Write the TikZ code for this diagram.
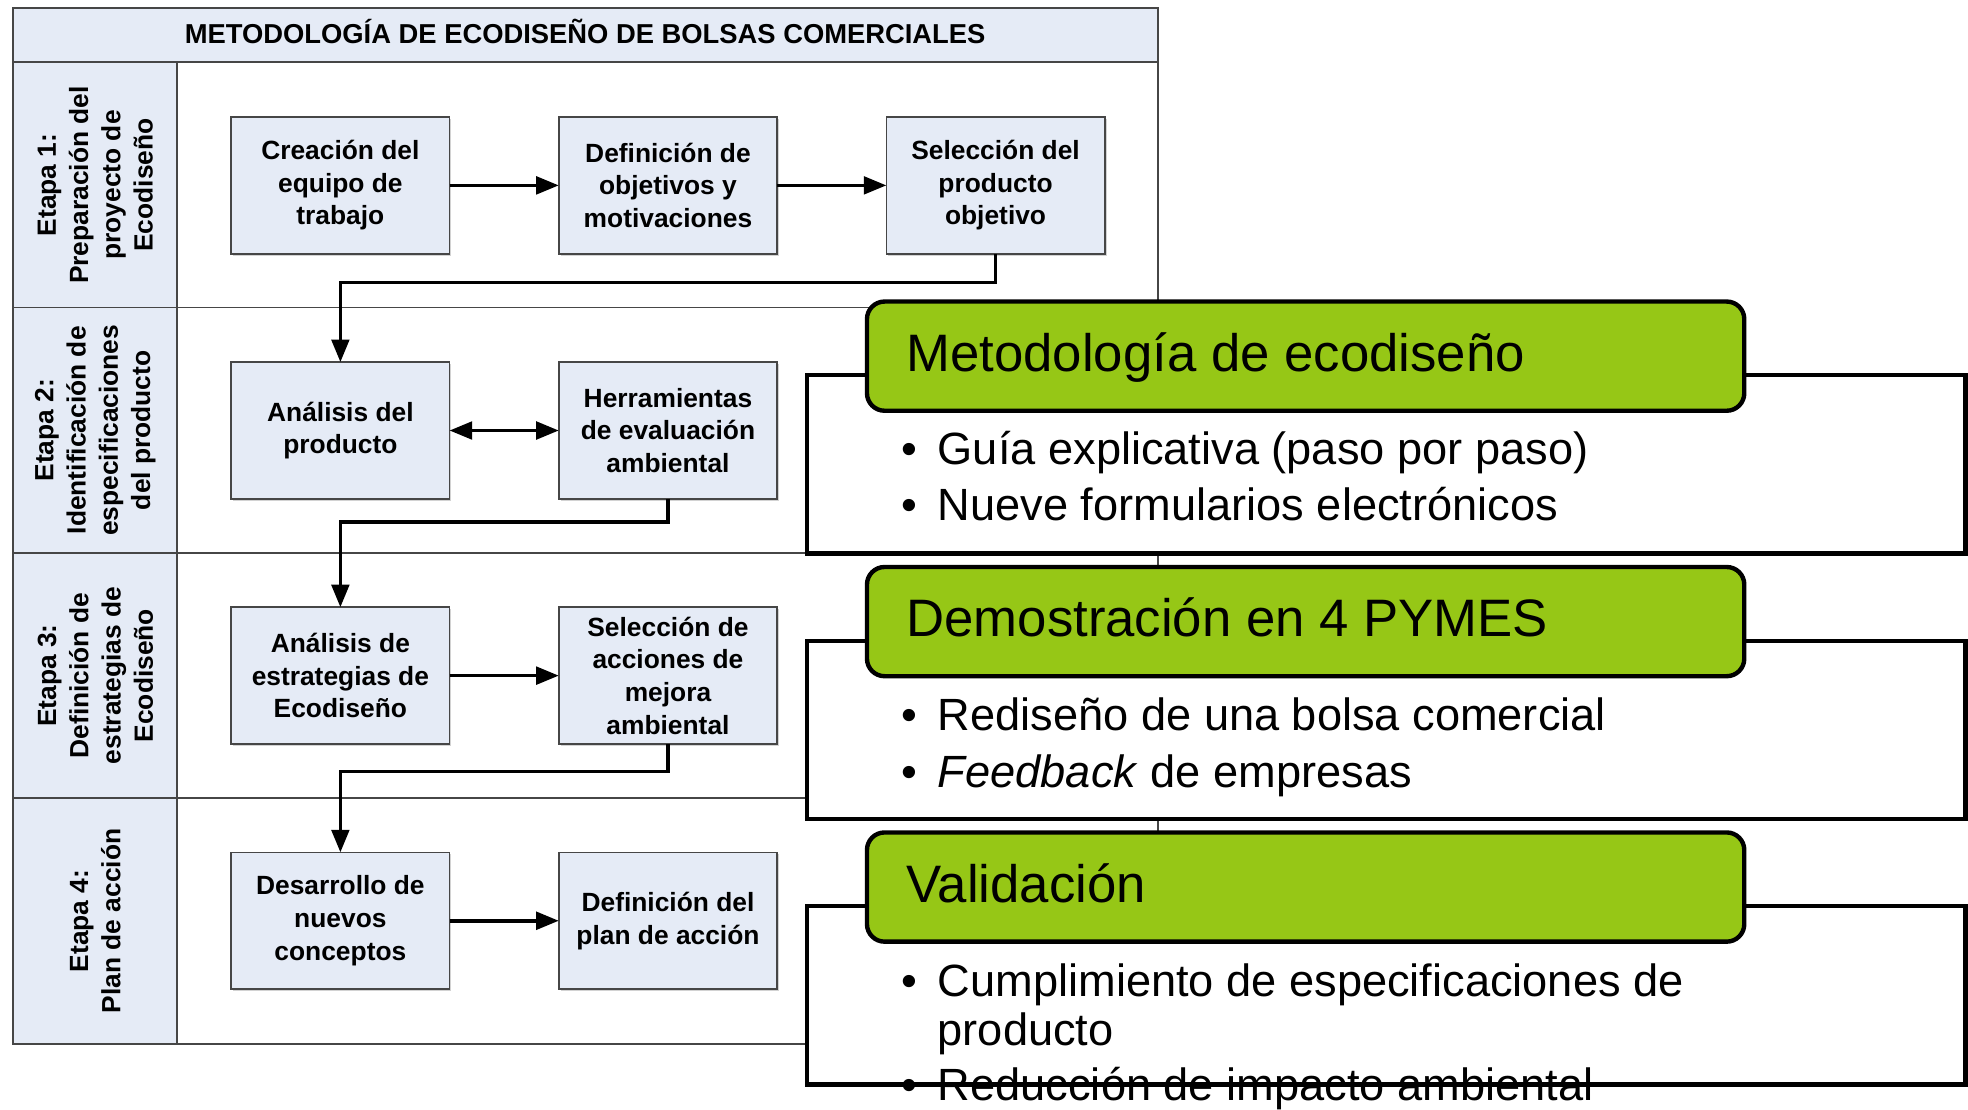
\documentclass[tikz,border=0pt]{standalone}
\usepackage{fontspec}
\setmainfont{Liberation Sans}
\usetikzlibrary{arrows.meta, positioning, shadows}

\definecolor{fondocaja}{RGB}{229,235,246}
\definecolor{verdecab}{RGB}{150,199,22}
\definecolor{lineagris}{RGB}{70,70,70}

\begin{document}
\begin{tikzpicture}[x=1pt, y=-1pt, node distance=87pt,
    caja/.style={draw=lineagris, line width=1.2pt, fill=fondocaja, minimum width=174pt, minimum height=109pt, align=center, inner sep=0pt, outer sep=0pt, font=\fontsize{21}{26}\selectfont\bfseries, drop shadow={shadow xshift=1.5pt, shadow yshift=-1.5pt, fill=black!35}},
    etapa/.style={rotate=90, align=center, inner sep=0pt, font=\fontsize{21}{25.7}\selectfont\bfseries},
    marco/.style={draw=lineagris, line width=1.5pt},
    flecha/.style={line width=2.8pt, -{Triangle[length=18pt, width=14pt]}},
    panel/.style={draw=black, line width=3.5pt, fill=white},
    cabecera/.style={draw=black, line width=3.5pt, fill=verdecab, rounded corners=14pt, minimum width=699pt, minimum height=87pt, inner sep=0pt, anchor=north west},
    textocab/.style={anchor=base west, inner sep=0pt, font=\fontsize{42}{50}\selectfont},
    punto/.style={anchor=base west, inner sep=0pt, font=\fontsize{36}{40}\selectfont}
  ]
        \useasboundingbox (0,0) rectangle (1568,884);
        \fill[white] (0,0) rectangle (1568,884);

        % Draw the frame and the lanes
        \fill[fondocaja] (10.7,6.6) rectangle (922.7,49.7);
        \fill[fondocaja] (10.7,49.7) rectangle (141,831.5);
        \draw[marco] (10.7,6.6) rectangle (922.7,831.5);
        \draw[marco] (10.7,49.7) -- (922.7,49.7);
        \draw[marco] (10.7,245) -- (922.7,245);
        \draw[marco] (10.7,440.5) -- (922.7,440.5);
        \draw[marco] (10.7,636) -- (922.7,636);
        \draw[marco] (141,49.7) -- (141,831.5);

        \node (titulo) [anchor=base, inner sep=0pt, font=\fontsize{21.8}{25}\selectfont\bfseries] at (466.2,34.5) {METODOLOGÍA DE ECODISEÑO DE BOLSAS COMERCIALES};

        \node (etapa1) [etapa] at (76,147.4) {Etapa 1:\\Preparación del\\proyecto de\\Ecodiseño};
        \node (etapa2) [etapa] at (76,342.8) {Etapa 2:\\Identificación de\\especificaciones\\del producto};
        \node (etapa3) [etapa] at (76,538.3) {Etapa 3:\\Definición de\\estrategias de\\Ecodiseño};
        \node (etapa4) [etapa] at (76,733.8) {Etapa 4:\\Plan de acción};

        % Draw the blocks
        \node (creacion)   [caja] at (271.2,147.7) {Creación del\\equipo de\\trabajo};
        \node (objetivos)  [caja, right=of creacion] {Definición de\\objetivos y\\motivaciones};
        \node (seleccion)  [caja, right=of objetivos] {Selección del\\producto\\objetivo};
        \node (analisis)   [caja, below=86.3pt of creacion] {Análisis del\\producto};
        \node (herram)     [caja, right=of analisis] {Herramientas\\de evaluación\\ambiental};
        \node (estrat)     [caja, below=86.3pt of analisis] {Análisis de\\estrategias de\\Ecodiseño};
        \node (acciones)   [caja, right=of estrat] {Selección de\\acciones de\\mejora\\ambiental};
        \node (desarrollo) [caja, below=86.3pt of estrat] {Desarrollo de\\nuevos\\conceptos};
        \node (plan)       [caja, right=of desarrollo] {Definición del\\plan de acción};

        % Draw the connecting lines
        \draw[flecha] (creacion) -- (objetivos);
        \draw[flecha] (objetivos) -- (seleccion);
        \draw[flecha] (seleccion.south) -- ++(0,23) -| (analisis.north);
        \draw[line width=2.8pt, {Triangle[length=18pt, width=14pt]}-{Triangle[length=18pt, width=14pt]}] (analisis) -- (herram);
        \draw[flecha] (herram.south) -- ++(0,18.5) -| (estrat.north);
        \draw[flecha] (estrat) -- (acciones);
        \draw[flecha] (acciones.south) -- ++(0,22) -| (desarrollo.north);
        \draw[flecha] (desarrollo) -- (plan);

        % Draw the panels
        \draw[panel] (643,299) rectangle (1566,441);
        \node (cab1) [cabecera] at (689,238.5) {};
        \node (tit1) [textocab] at (722,296) {Metodología de ecodiseño};
        \node (punto1a) [punto] at (718,370) {\textbullet};
        \node (lista1a) [punto] at (747,370) {Guía explicativa (paso por paso)};
        \node (punto1b) [punto] at (718,415) {\textbullet};
        \node (lista1b) [punto] at (747,415) {Nueve formularios electrónicos};

        \draw[panel] (643,510.5) rectangle (1566,652.5);
        \node (cab2) [cabecera] at (689,450) {};
        \node (tit2) [textocab] at (722,507.5) {Demostración en 4 PYMES};
        \node (punto2a) [punto] at (718,582) {\textbullet};
        \node (lista2a) [punto] at (747,582) {Rediseño de una bolsa comercial};
        \node (punto2b) [punto] at (718,627.5) {\textbullet};
        \node (lista2b) [punto] at (747,627.5) {\textit{Feedback} de empresas};

        \draw[panel] (643,722) rectangle (1566,864);
        \node (cab3) [cabecera] at (689,661.5) {};
        \node (tit3) [textocab] at (722,719) {Validación};
        \node (punto3a) [punto] at (718,793.6) {\textbullet};
        \node (lista3a) [punto] at (747,793.6) {Cumplimiento de especificaciones de};
        \node (lista3b) [punto] at (747,832.6) {producto};
        \node (punto3c) [punto] at (718,877) {\textbullet};
        \node (lista3c) [punto] at (747,877) {Reducción de impacto ambiental};
\end{tikzpicture}
\end{document}
